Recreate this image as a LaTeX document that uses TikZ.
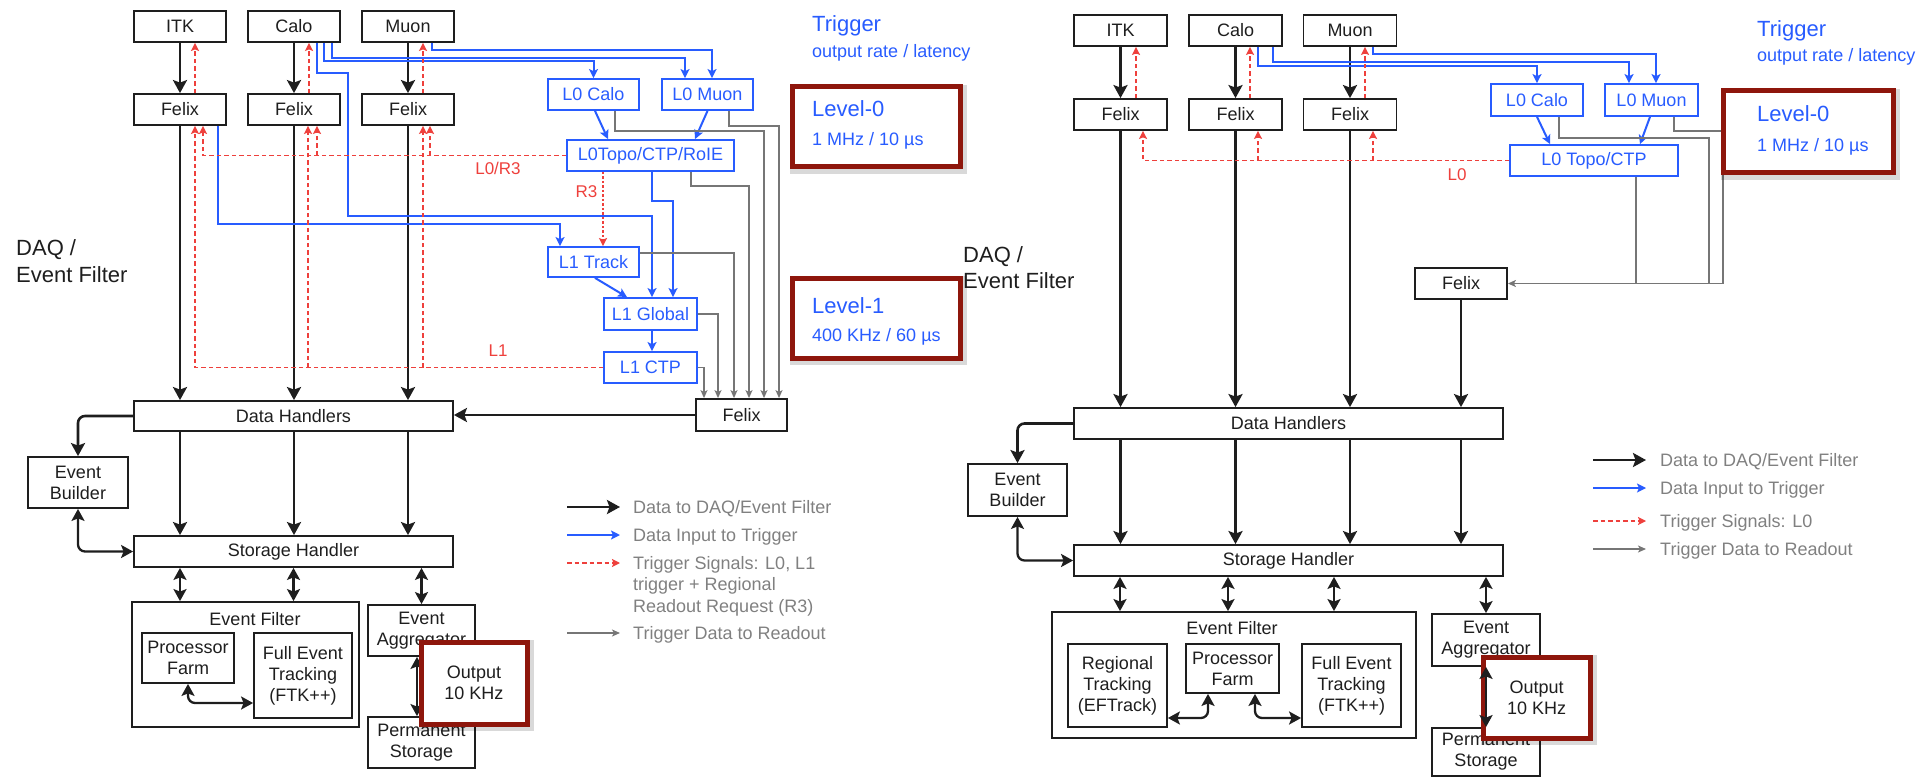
\documentclass[tikz,border=0pt]{standalone}
\usepackage{fontspec}
\setmainfont{Liberation Sans}
\usetikzlibrary{arrows.meta}
\definecolor{tblue}{RGB}{40,92,255}
\definecolor{tred}{RGB}{238,64,60}
\definecolor{tgray}{RGB}{118,118,118}
\definecolor{dred}{RGB}{142,22,12}
\definecolor{legtxt}{RGB}{128,128,128}
\definecolor{ink}{RGB}{30,30,30}
\begin{document}
\begin{tikzpicture}[x=1pt,y=-1pt,
 box/.style={draw=ink, line width=1.8pt, inner sep=0pt, text=ink, align=center, font=\fontsize{18}{21}\selectfont},
 sb/.style={box, minimum width=92pt, minimum height=31pt},
 bbox/.style={draw=tblue, line width=1.8pt, inner sep=0pt, text=tblue, font=\fontsize{18}{21}\selectfont},
 rbox/.style={draw=dred, line width=5pt, fill=white, inner sep=0pt, text=ink, align=center, font=\fontsize{18}{21}\selectfont,
   preaction={draw=black, opacity=0.15, line width=9pt, transform canvas={xshift=2pt,yshift=-2.5pt}}},
 txt/.style={inner sep=0pt, text=ink, font=\fontsize{18}{21}\selectfont},
 big/.style={inner sep=0pt, text=ink, font=\fontsize{22}{27}\selectfont},
 btxt/.style={inner sep=0pt, text=tblue, font=\fontsize{18}{21}\selectfont},
 bbig/.style={inner sep=0pt, text=tblue, font=\fontsize{22}{27}\selectfont},
 rtxt/.style={inner sep=0pt, text=tred, font=\fontsize{17}{20}\selectfont},
 leg/.style={inner sep=0pt, text=legtxt, align=left, font=\fontsize{18}{21.5}\selectfont},
 blk/.style={draw=ink, line width=2.6pt, -{Stealth[length=13pt,width=14pt,inset=2.5pt]}},
 dbl/.style={draw=ink, line width=2.3pt, {Stealth[length=12pt,width=13pt,inset=2.5pt]}-{Stealth[length=12pt,width=13pt,inset=2.5pt]}},
 blu/.style={draw=tblue, line width=2pt, -{Stealth[length=9pt,width=9pt,inset=2pt]}},
 rdd/.style={draw=tred, line width=1.7pt, dash pattern=on 4.5pt off 3pt, -{Stealth[length=8pt,width=8pt,inset=1.5pt]}},
 gry/.style={draw=tgray, line width=1.4pt, -{Stealth[length=8pt,width=7pt,inset=2pt]}},
 gryl/.style={draw=tgray, line width=1.4pt}
]
\useasboundingbox (0,0) rectangle (1917,778);

% ================= LEFT DIAGRAM =================
\node[sb] (itkA) at (180,26.5) {ITK};
\node[sb] (caloA) at (294,26.5) {Calo};
\node[sb] (muonA) at (408,26.5) {Muon};
\node[sb] (felA1) at (180,109.5) {Felix};
\node[sb] (felA2) at (294,109.5) {Felix};
\node[sb] (felA3) at (408,109.5) {Felix};
\node[bbox, minimum width=91pt, minimum height=31pt] (l0caloA) at (593.5,94.5) {L0 Calo};
\node[bbox, minimum width=91pt, minimum height=31pt] (l0muonA) at (707.5,94.5) {L0 Muon};
\node[bbox, minimum width=167pt, minimum height=31pt] (l0topoA) at (650.5,155.5) {L0Topo/CTP/RoIE};
\node[bbox, minimum width=91pt, minimum height=30pt] (l1trackA) at (593.5,262) {L1 Track};
\node[bbox, minimum width=93pt, minimum height=32pt] (l1globalA) at (650.5,314) {L1 Global};
\node[bbox, minimum width=93pt, minimum height=31pt] (l1ctpA) at (650.5,367.5) {L1 CTP};
\node[box, minimum width=91pt, minimum height=32pt] (felRA) at (741.5,415) {Felix};
\node[box, minimum width=319pt, minimum height=30pt] (dhA) at (293.5,416) {Data Handlers};
\node[box, minimum width=100pt, minimum height=51pt] (ebA) at (78,482.5) {Event\\Builder};
\node[box, minimum width=319pt, minimum height=31pt] (shA) at (293.5,551.5) {Storage Handler};
\node[box, minimum width=227pt, minimum height=125pt] (efA) at (245.5,664.5) {};
\node[txt] (efAt) at (255,619) {Event Filter};
\node[box, minimum width=92pt, minimum height=50pt] (pfA) at (188,658) {Processor\\Farm};
\node[box, minimum width=98pt, minimum height=85pt] (ftkA) at (303,675.5) {Full Event\\Tracking\\(FTK++)};
\node[box, minimum width=107pt, minimum height=51pt] (eaA) at (421.5,630.5) {Event\\Aggregator};
\node[box, minimum width=107pt, minimum height=51pt] (psA) at (421.5,742.5) {Permanent\\Storage};

% black
\draw[blk] (itkA) -- (felA1);
\draw[blk] (caloA) -- (felA2);
\draw[blk] (muonA) -- (felA3);
\draw[blk] (felA1) -- (felA1 |- dhA.north);
\draw[blk] (felA2) -- (felA2 |- dhA.north);
\draw[blk] (felA3) -- (felA3 |- dhA.north);
\draw[blk] (felRA.west) -- (felRA.west -| dhA.east);
\draw[blk] (felA1 |- dhA.south) -- (felA1 |- shA.north);
\draw[blk] (felA2 |- dhA.south) -- (felA2 |- shA.north);
\draw[blk] (felA3 |- dhA.south) -- (felA3 |- shA.north);
\draw[blk, rounded corners=7pt] (dhA.west) -| (ebA.north);
\draw[dbl, rounded corners=7pt] (ebA.south) |- (shA.west);
\draw[dbl] (felA1 |- shA.south) -- (felA1 |- efA.north);
\path ([xshift=-0.5pt]felA2.south) coordinate (sA2);
\draw[dbl] (sA2 |- shA.south) -- (sA2 |- efA.north);
\draw[dbl] (eaA |- shA.south) -- (eaA.north);
\draw[dbl, rounded corners=7pt] (pfA.south) |- ([yshift=-27.5pt]ftkA.west);
\path ([xshift=-4.5pt]eaA.south) coordinate (eaAs) ([xshift=-4.5pt]psA.north) coordinate (psAn);
\draw[dbl] (eaAs) -- (psAn);

% blue
\draw[blu] ([xshift=24pt]muonA.south) -- ++(0,7) -| ([xshift=4.5pt]l0muonA.north);
\draw[blu] ([xshift=38pt]caloA.south) -- ++(0,15) -| ([xshift=-22.5pt]l0muonA.north);
\draw[blu] ([xshift=30pt]caloA.south) -- ++(0,18) -| (l0caloA.north);
\draw[blu] ([xshift=23pt]caloA.south) -- ++(0,30) -- ++(31,0) -- ++(0,143) -| ([xshift=1.5pt]l1globalA.north);
\draw[blu] ([xshift=38pt]felA1.south) -- ++(0,98) -| ([xshift=-33.5pt]l1trackA.north);
\draw[blu] ([xshift=1.5pt]l0caloA.south) -- ([xshift=-42.5pt]l0topoA.north);
\draw[blu] (l0muonA.south) -- ([xshift=44.5pt]l0topoA.north);
\draw[blu] ([xshift=1.5pt]l0topoA.south) -- ++(0,29) -| ([xshift=22.5pt]l1globalA.north);
\draw[blu] ([xshift=1.5pt]l1trackA.south) -- ([xshift=-23.5pt]l1globalA.north);
\draw[blu] ([xshift=1.5pt]l1globalA.south) -- ([xshift=1.5pt]l1ctpA.north);

% red
\path ([xshift=15pt]felA1.north) coordinate (rA1) ([xshift=15pt]felA2.north) coordinate (rA2) ([xshift=15pt]felA3.north) coordinate (rA3);
\draw[rdd] (rA1) -- (rA1 |- itkA.south);
\draw[rdd] (rA2) -- (rA2 |- caloA.south);
\draw[rdd] (rA3) -- (rA3 |- muonA.south);
\path ([xshift=23pt]felA1.south) coordinate (qA1) ([xshift=23pt]felA2.south) coordinate (qA2) ([xshift=22pt]felA3.south) coordinate (qA3);
\draw[rdd] (l0topoA.west) -| (qA1);
\draw[rdd] (qA2 |- l0topoA.west) -- (qA2);
\draw[rdd] (qA3 |- l0topoA.west) -- (qA3);
\path ([xshift=15pt]felA1.south) coordinate (pA1) ([xshift=14pt]felA2.south) coordinate (pA2) ([xshift=15pt]felA3.south) coordinate (pA3);
\draw[rdd] (l1ctpA.west) -| (pA1);
\draw[rdd] (pA2 |- l1ctpA.west) -- (pA2);
\draw[rdd] (pA3 |- l1ctpA.west) -- (pA3);
\path ([xshift=9.5pt]l1trackA.north) coordinate (r3e);
\draw[rdd, dash pattern=on 2.5pt off 2pt] (r3e |- l0topoA.south) -- (r3e);
\node[rtxt, anchor=base] (labL0R3) at (498,175) {L0/R3};
\node[rtxt, anchor=base] (labR3) at (586.5,198) {R3};
\node[rtxt, anchor=base] (labL1) at (498,356) {L1};

% gray
\path ([xshift=-37.5pt]felRA.north) coordinate (gA1) ([xshift=-23.5pt]felRA.north) coordinate (gA2)
      ([xshift=-7.5pt]felRA.north) coordinate (gA3) ([xshift=7.5pt]felRA.north) coordinate (gA4)
      ([xshift=22.5pt]felRA.north) coordinate (gA5) ([xshift=37.5pt]felRA.north) coordinate (gA6);
\draw[gry] (l1ctpA.east) -| (gA1);
\draw[gry] (l1globalA.east) -| (gA2);
\draw[gry] ([yshift=9pt]l1trackA.east) -| (gA3);
\draw[gry] ([xshift=40.5pt]l0topoA.south) -- ++(0,14) -| (gA4);
\draw[gry] ([xshift=21.5pt]l0caloA.south) -- ++(0,20) -| (gA5);
\draw[gry] ([xshift=21.5pt]l0muonA.south) -- ++(0,15) -| (gA6);

% texts
\node[bbig, anchor=base west] (trigA) at (812,32) {Trigger};
\node[btxt, anchor=base west] (trigAs) at (812,57.5) {output rate / latency};
\node[big, anchor=base west] (daqA1) at (16,255) {DAQ /};
\node[big, anchor=base west] (daqA2) at (16,282) {Event Filter};

% red boxes
\node[rbox, minimum width=106pt, minimum height=82pt] (outA) at (474,683) {Output\\10 KHz};
\node[rbox, minimum width=168pt, minimum height=80pt] (lev0A) at (876,127) {};
\node[rbox, minimum width=168pt, minimum height=80pt] (lev1A) at (876,318) {};
\node[bbig, anchor=base west] (lev0At) at (812,117) {Level-0};
\node[btxt, anchor=base west] (lev0Ar) at (812,145.5) {1 MHz / 10 µs};
\node[bbig, anchor=base west] (lev1At) at (812,313) {Level-1};
\node[btxt, anchor=base west] (lev1Ar) at (812,341.5) {400 KHz / 60 µs};

% legend
\node[leg, anchor=base west] (lgA1) at (633,513.5) {Data to DAQ/Event Filter};
\node[leg, anchor=base west] (lgA2) at (633,541.5) {Data Input to Trigger};
\node[leg, anchor=north west] (lgA3) at (633,556) {Trigger Signals: L0, L1\\trigger + Regional\\Readout Request (R3)};
\node[leg, anchor=base west] (lgA4) at (633,639.5) {Trigger Data to Readout};
\draw[blk, line width=2.6pt] ([xshift=-66pt,yshift=6.5pt]lgA1.base west) -- ([xshift=-13pt,yshift=6.5pt]lgA1.base west);
\draw[blu, line width=2.2pt] ([xshift=-66pt,yshift=6.5pt]lgA2.base west) -- ([xshift=-13pt,yshift=6.5pt]lgA2.base west);
\draw[rdd] ([xshift=-66pt,yshift=-7pt]lgA3.north west) -- ([xshift=-13pt,yshift=-7pt]lgA3.north west);
\draw[gry] ([xshift=-66pt,yshift=6.5pt]lgA4.base west) -- ([xshift=-13pt,yshift=6.5pt]lgA4.base west);

% ================= RIGHT DIAGRAM =================
\node[sb, minimum width=93pt] (itkB) at (1120.5,30.5) {ITK};
\node[sb, minimum width=93pt] (caloB) at (1235.5,30.5) {Calo};
\node[sb, minimum width=93pt] (muonB) at (1350,30.5) {Muon};
\node[sb, minimum width=93pt] (felB1) at (1120.5,114.5) {Felix};
\node[sb, minimum width=93pt] (felB2) at (1235.5,114.5) {Felix};
\node[sb, minimum width=93pt] (felB3) at (1350,114.5) {Felix};
\node[bbox, minimum width=92pt, minimum height=32pt] (l0caloB) at (1537,100) {L0 Calo};
\node[bbox, minimum width=93pt, minimum height=32pt] (l0muonB) at (1651.5,100) {L0 Muon};
\node[bbox, minimum width=168pt, minimum height=31pt] (l0topoB) at (1594,160.5) {L0 Topo/CTP};
\node[sb] (felRB) at (1461,283.5) {Felix};
\node[box, minimum width=429pt, minimum height=31pt] (dhB) at (1288.5,423.5) {Data Handlers};
\node[box, minimum width=99pt, minimum height=52pt] (ebB) at (1017.5,490) {Event\\Builder};
\node[box, minimum width=429pt, minimum height=31pt] (shB) at (1288.5,560.5) {Storage Handler};
\node[box, minimum width=364pt, minimum height=126pt] (efB) at (1234,675) {};
\node[txt] (efBt) at (1232,628) {Event Filter};
\node[box, minimum width=99pt, minimum height=83pt] (rtB) at (1117.5,685.5) {Regional\\Tracking\\(EFTrack)};
\node[box, minimum width=93pt, minimum height=49pt] (pfB) at (1232.5,668.5) {Processor\\Farm};
\node[box, minimum width=99pt, minimum height=83pt] (ftkB) at (1351.5,685.5) {Full Event\\Tracking\\(FTK++)};
\node[box, minimum width=108pt, minimum height=52pt] (eaB) at (1486,640) {Event\\Aggregator};
\node[box, minimum width=108pt, minimum height=48pt] (psB) at (1486,752) {Permanent\\Storage};

% black
\draw[blk] (itkB) -- (felB1);
\draw[blk] (caloB) -- (felB2);
\draw[blk] (muonB) -- (felB3);
\draw[blk] (felB1) -- (felB1 |- dhB.north);
\draw[blk] (felB2) -- (felB2 |- dhB.north);
\draw[blk] (felB3) -- (felB3 |- dhB.north);
\draw[blk] (felRB) -- (felRB |- dhB.north);
\draw[blk] (felB1 |- dhB.south) -- (felB1 |- shB.north);
\draw[blk] (felB2 |- dhB.south) -- (felB2 |- shB.north);
\draw[blk] (felB3 |- dhB.south) -- (felB3 |- shB.north);
\draw[blk] (felRB |- dhB.south) -- (felRB |- shB.north);
\draw[blk, rounded corners=7pt] (dhB.west) -| (ebB.north);
\draw[dbl, rounded corners=7pt] (ebB.south) |- (shB.west);
\path ([xshift=-114pt]efB.north) coordinate (eB1) ([xshift=-6pt]efB.north) coordinate (eB2) ([xshift=100pt]efB.north) coordinate (eB3);
\draw[dbl] (eB1 |- shB.south) -- (eB1);
\draw[dbl] (eB2 |- shB.south) -- (eB2);
\draw[dbl] (eB3 |- shB.south) -- (eB3);
\draw[dbl] (eaB |- shB.south) -- (eaB.north);
\draw[dbl, rounded corners=7pt] ([yshift=-32.5pt]rtB.east) -| ([xshift=-24.5pt]pfB.south);
\draw[dbl, rounded corners=7pt] ([xshift=22.5pt]pfB.south) |- ([yshift=-32.5pt]ftkB.west);

% blue
\draw[blu] ([xshift=23pt]muonB.south) -- ++(0,7) -| ([xshift=4.5pt]l0muonB.north);
\draw[blu] ([xshift=37.5pt]caloB.south) -- ++(0,15) -| ([xshift=-22.5pt]l0muonB.north);
\draw[blu] ([xshift=22.5pt]caloB.south) -- ++(0,19) -| (l0caloB.north);
\draw[blu] (l0caloB.south) -- ([xshift=-44pt]l0topoB.north);
\draw[blu] ([xshift=-1.5pt]l0muonB.south) -- ([xshift=46pt]l0topoB.north);

% red
\path ([xshift=15.5pt]felB1.north) coordinate (rB1) ([xshift=14.5pt]felB2.north) coordinate (rB2) ([xshift=15pt]felB3.north) coordinate (rB3);
\draw[rdd] (rB1) -- (rB1 |- itkB.south);
\draw[rdd] (rB2) -- (rB2 |- caloB.south);
\draw[rdd] (rB3) -- (rB3 |- muonB.south);
\path ([xshift=22.5pt]felB1.south) coordinate (qB1) ([xshift=22.5pt]felB2.south) coordinate (qB2) ([xshift=23pt]felB3.south) coordinate (qB3);
\draw[rdd] (l0topoB.west) -| (qB1);
\draw[rdd] (qB2 |- l0topoB.west) -- (qB2);
\draw[rdd] (qB3 |- l0topoB.west) -- (qB3);
\node[rtxt, anchor=base] (labL0B) at (1457,181) {L0};

% gray
\coordinate (gB) at (1723,283.5);
\draw[gry] ([xshift=22.5pt]l0muonB.south) -- ++(0,14) -| (gB) -- (felRB.east);
\draw[gryl] ([xshift=22pt]l0caloB.south) -- ++(0,21) -| ([xshift=-14pt]gB);
\path ([xshift=42pt]l0topoB.south) coordinate (tB);
\draw[gryl] (tB) -- (tB |- gB);

% texts
\node[bbig, anchor=base west] (trigB) at (1757,37) {Trigger};
\node[btxt, anchor=base west] (trigBs) at (1757,62) {output rate / latency};
\node[big, anchor=base west] (daqB1) at (963,262) {DAQ /};
\node[big, anchor=base west] (daqB2) at (963,288) {Event Filter};

% red boxes
\node[rbox, minimum width=107pt, minimum height=81pt] (outB) at (1536.5,697.5) {Output\\10 KHz};
\node[rbox, minimum width=170pt, minimum height=82pt] (lev0B) at (1808,132) {};
\node[bbig, anchor=base west] (lev0Bt) at (1757,122) {Level-0};
\node[btxt, anchor=base west] (lev0Br) at (1757,151.5) {1 MHz / 10 µs};
\draw[dbl] (eaB.south) -- (psB.north);

% legend
\node[leg, anchor=base west] (lgB1) at (1660,466.5) {Data to DAQ/Event Filter};
\node[leg, anchor=base west] (lgB2) at (1660,494.5) {Data Input to Trigger};
\node[leg, anchor=base west] (lgB3) at (1660,527.5) {Trigger Signals: L0};
\node[leg, anchor=base west] (lgB4) at (1660,555.5) {Trigger Data to Readout};
\draw[blk, line width=2.6pt] ([xshift=-67pt,yshift=6.5pt]lgB1.base west) -- ([xshift=-14pt,yshift=6.5pt]lgB1.base west);
\draw[blu, line width=2.2pt] ([xshift=-67pt,yshift=6.5pt]lgB2.base west) -- ([xshift=-14pt,yshift=6.5pt]lgB2.base west);
\draw[rdd] ([xshift=-67pt,yshift=6.5pt]lgB3.base west) -- ([xshift=-14pt,yshift=6.5pt]lgB3.base west);
\draw[gry] ([xshift=-67pt,yshift=6.5pt]lgB4.base west) -- ([xshift=-14pt,yshift=6.5pt]lgB4.base west);
\end{tikzpicture}
\end{document}
